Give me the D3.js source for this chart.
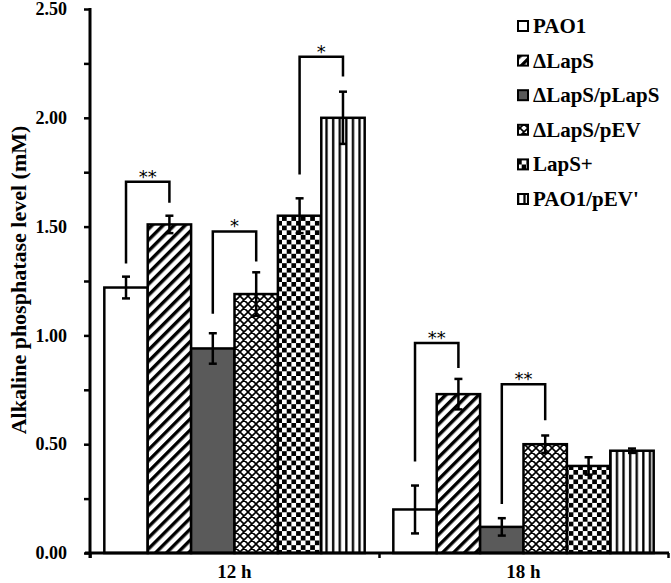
<!DOCTYPE html>
<html>
<head>
<meta charset="utf-8">
<script src="https://cdn.jsdelivr.net/npm/d3@7"></script>
<style>
  body { margin: 0; background: #fff; }
  svg text { font-family: 'Liberation Serif', 'Times New Roman', serif; font-weight: bold; }
</style>
</head>
<body>
<script>
// Data
const groups = ['12 h', '18 h']
const strains = ['PAO1', 'ΔLapS', 'ΔLapS/pLapS', 'ΔLapS/pEV', 'LapS+', "PAO1/pEV'"]
const means12 = [1.22, 1.51, 0.94, 1.19, 1.55, 2.00]
const errs12 = [0.05, 0.04, 0.07, 0.10, 0.08, 0.12]
const means18 = [0.20, 0.73, 0.12, 0.50, 0.40, 0.47]
const errs18 = [0.11, 0.07, 0.04, 0.04, 0.04, 0.01]
const yTicks = [0, 0.25, 0.5, 0.75, 1, 1.25, 1.5, 1.75, 2, 2.25, 2.5]

// significance brackets: group, left bar, right bar, top, left leg end, right leg end, label
const brackets = [
  { group: '12 h', a: 0, b: 1, top: 1.706, left: 1.33, right: 1.61, label: '**' },
  { group: '12 h', a: 2, b: 3, top: 1.478, left: 1.10, right: 1.34, label: '*' },
  { group: '12 h', a: 4, b: 5, top: 2.28, left: 1.74, right: 2.19, label: '*' },
  { group: '18 h', a: 0, b: 1, top: 0.965, left: 0.42, right: 0.85, label: '**' },
  { group: '18 h', a: 2, b: 3, top: 0.775, left: 0.225, right: 0.61, label: '**' }
]

const width = 671
const height = 583
const plotLeft = 90
const plotRight = 668
const plotTop = 9
const plotBottom = 553

const svg = d3.select('body').append('svg')
  .attr('width', width)
  .attr('height', height)

// Patterns
const defs = svg.append('defs')

const diag = defs.append('pattern')
  .attr('id', 'diag')
  .attr('patternUnits', 'userSpaceOnUse')
  .attr('width', 7.8)
  .attr('height', 7.8)
  .attr('patternTransform', 'rotate(45)')
diag.append('rect').attr('width', 7.8).attr('height', 7.8).attr('fill', '#fff')
diag.append('rect').attr('width', 3.4).attr('height', 7.8).attr('fill', '#000')

const cross = defs.append('pattern')
  .attr('id', 'cross')
  .attr('patternUnits', 'userSpaceOnUse')
  .attr('width', 8)
  .attr('height', 8)
cross.append('rect').attr('width', 8).attr('height', 8).attr('fill', '#fff')
cross.append('path')
  .attr('d', 'M0,0L8,8M8,0L0,8M-1,7L1,9M7,-1L9,1M-1,1L1,-1M7,9L9,7')
  .attr('stroke', '#000')
  .attr('stroke-width', 1.6)

const checker = defs.append('pattern')
  .attr('id', 'checker')
  .attr('patternUnits', 'userSpaceOnUse')
  .attr('width', 9.4)
  .attr('height', 9.4)
checker.append('rect').attr('width', 9.4).attr('height', 9.4).attr('fill', '#fff')
checker.append('rect').attr('width', 4.7).attr('height', 4.7).attr('fill', '#000')
checker.append('rect').attr('x', 4.7).attr('y', 4.7).attr('width', 4.7).attr('height', 4.7).attr('fill', '#000')

const vert = defs.append('pattern')
  .attr('id', 'vert')
  .attr('patternUnits', 'userSpaceOnUse')
  .attr('width', 6.6)
  .attr('height', 10)
vert.append('rect').attr('width', 6.6).attr('height', 10).attr('fill', '#fff')
vert.append('rect').attr('x', 2).attr('width', 2.3).attr('height', 10).attr('fill', '#000')

const fills = ['#fff', 'url(#diag)', '#5a5a5a', 'url(#cross)', 'url(#checker)', 'url(#vert)']

// Scales
const x0 = d3.scaleBand().domain(groups).range([plotLeft, plotRight])
const x1 = d3.scaleBand().domain(strains).range([0, x0.bandwidth()]).paddingOuter(0.33)
const y = d3.scaleLinear().domain([0, 2.5]).range([plotBottom, plotTop])

const rows = []
groups.forEach((g, gi) => {
  const means = gi === 0 ? means12 : means18
  const errs = gi === 0 ? errs12 : errs18
  strains.forEach((s, i) => rows.push({ group: g, strain: s, i, mean: means[i], err: errs[i] }))
})

// Bars
svg.selectAll('.bar')
  .data(rows)
  .enter()
  .append('rect')
  .attr('class', 'bar')
  .attr('x', d => x0(d.group) + x1(d.strain))
  .attr('y', d => y(d.mean))
  .attr('width', x1.bandwidth())
  .attr('height', d => y(0) - y(d.mean))
  .attr('fill', d => fills[d.i])
  .attr('stroke', '#000')
  .attr('stroke-width', 2.5)

// Error bars
const cx = d => x0(d.group) + x1(d.strain) + x1.bandwidth() / 2
const eb = svg.append('g').attr('stroke', '#000').attr('stroke-width', 2.5)
rows.forEach(d => {
  eb.append('line').attr('x1', cx(d)).attr('x2', cx(d))
    .attr('y1', y(d.mean - d.err)).attr('y2', y(d.mean + d.err))
  eb.append('line').attr('x1', cx(d) - 4).attr('x2', cx(d) + 4)
    .attr('y1', y(d.mean + d.err)).attr('y2', y(d.mean + d.err))
  eb.append('line').attr('x1', cx(d) - 4).attr('x2', cx(d) + 4)
    .attr('y1', y(d.mean - d.err)).attr('y2', y(d.mean - d.err))
})

// Brackets
const br = svg.append('g')
brackets.forEach(b => {
  const xa = x0(b.group) + x1(strains[b.a]) + x1.bandwidth() / 2
  const xb = x0(b.group) + x1(strains[b.b]) + x1.bandwidth() / 2
  br.append('path')
    .attr('d', `M${xa},${y(b.left)}V${y(b.top)}H${xb}V${y(b.right)}`)
    .attr('fill', 'none')
    .attr('stroke', '#000')
    .attr('stroke-width', 2.5)
  br.append('text')
    .attr('x', (xa + xb) / 2)
    .attr('y', y(b.top) + 1)
    .attr('text-anchor', 'middle')
    .style('font-family', "'DejaVu Sans', sans-serif")
    .style('font-weight', 'normal')
    .style('font-size', '18px')
    .text(b.label)
})

// Y axis
const yAxis = d3.axisLeft(y)
  .tickValues(yTicks)
  .tickSize(6)
  .tickPadding(17)
  .tickFormat(d => (d * 2) % 1 === 0 ? d.toFixed(2) : '')
const gy = svg.append('g')
  .attr('transform', `translate(${plotLeft}, 0)`)
  .call(yAxis)
gy.select('.domain').attr('stroke-width', 3).attr('d', `M0,${plotTop - 1}V${plotBottom + 5}`)
gy.selectAll('.tick line').attr('stroke-width', 2.5)
gy.selectAll('text').style('font-size', '18px').attr('fill', '#000')

// X axis
const xLine = d3.scaleLinear().domain([0, 2]).range([plotLeft, plotRight])
const gx = svg.append('g')
  .attr('transform', `translate(0, ${plotBottom})`)
  .call(d3.axisBottom(xLine).tickValues([0, 1, 2]).tickSize(5).tickFormat(''))
gx.select('.domain').attr('stroke-width', 3).attr('d', `M${plotLeft - 5},0H${plotRight + 1}`)
gx.selectAll('.tick line').attr('stroke-width', 2.5)

const gl = svg.append('g')
  .attr('transform', `translate(0, ${plotBottom})`)
  .call(d3.axisBottom(x0).tickSize(0).tickPadding(12))
gl.select('.domain').remove()
gl.selectAll('text').style('font-size', '19px').attr('fill', '#000')

// Y title
svg.append('text')
  .attr('transform', `translate(26, 280) rotate(-90)`)
  .attr('text-anchor', 'middle')
  .style('font-size', '22px')
  .text('Alkaline phosphatase level (mM)')

// Legend
const legend = svg.append('g').attr('id', 'legend')
strains.forEach((s, i) => {
  const ly = 26 + i * 34.6
  legend.append('rect')
    .attr('x', 518)
    .attr('y', ly - 5)
    .attr('width', 10)
    .attr('height', 10)
    .attr('fill', fills[i])
    .attr('stroke', '#000')
    .attr('stroke-width', 2)
  legend.append('text')
    .attr('x', 533)
    .attr('y', ly + 7)
    .style('font-size', '21px')
    .text(s)
})
</script>
</body>
</html>
